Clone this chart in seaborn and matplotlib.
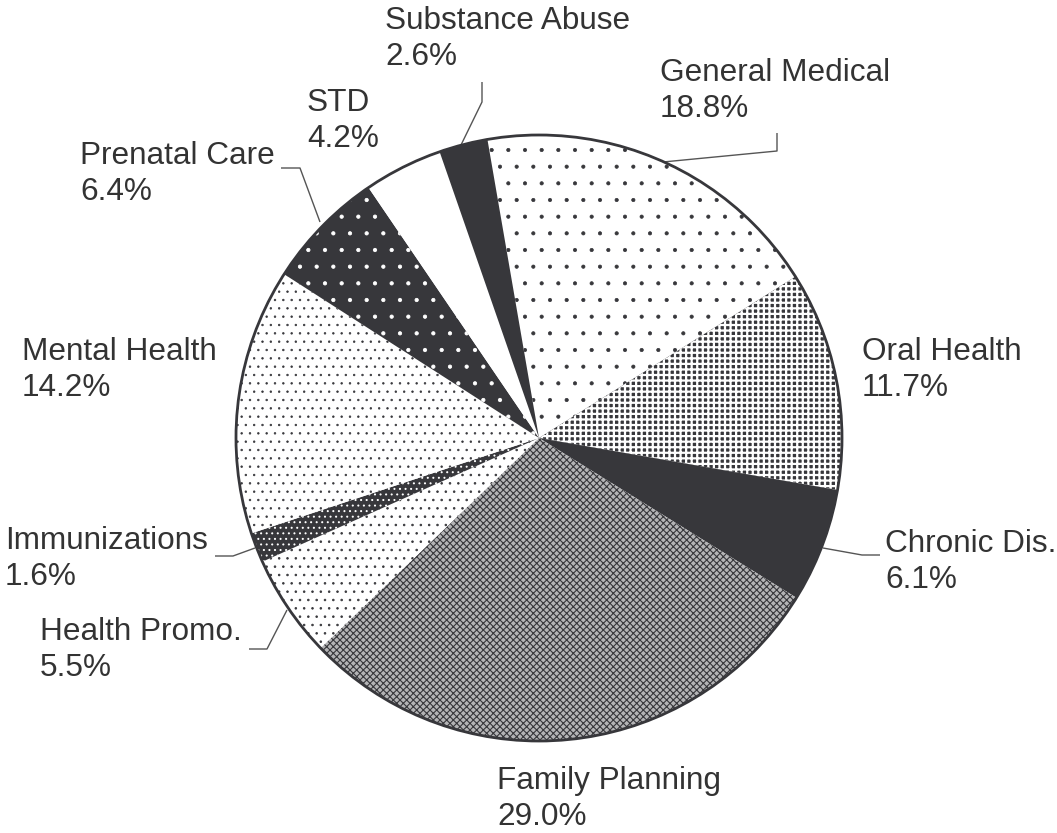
import matplotlib
matplotlib.use("Agg")
import matplotlib.pyplot as plt
from matplotlib.patches import Circle
import seaborn as sns

# ---- data ----
categories = ["General Medical", "Oral Health", "Chronic Dis.", "Family Planning",
              "Health Promo.", "Immunizations", "Mental Health", "Prenatal Care",
              "STD", "Substance Abuse"]
shares = [18.8, 11.7, 6.1, 29.0, 5.5, 1.6, 14.2, 6.4, 4.2, 2.6]

# ---- styling ----
sns.set_theme(style="white")
plt.rcParams['font.family'] = ['Liberation Sans', 'DejaVu Sans']
plt.rcParams['hatch.linewidth'] = 0.7

DARK = "#37373b"
TXT = "#333333"
W, H = 1057, 833

# face, hatch, hatch colour, hatch linewidth per slice
styles = {
    "General Medical": ("white", ".", DARK, 0.5),
    "Oral Health": (DARK, "+++", "white", 1.6),
    "Chronic Dis.": (DARK, "", DARK, 1.0),
    "Family Planning": ("#b4b4b6", "xxxxx", DARK, 0.8),
    "Health Promo.": ("white", "..", DARK, 0.6),
    "Immunizations": (DARK, "...", "white", 0.7),
    "Mental Health": ("white", "..", DARK, 0.5),
    "Prenatal Care": (DARK, ".", "white", 0.6),
    "STD": ("white", "", "white", 1.0),
    "Substance Abuse": (DARK, "", DARK, 1.0),
}

# label placement (px, y downward): left x, baseline of 2nd line
label_pos = {
    "Substance Abuse": (385, 65),
    "General Medical": (660, 117),
    "STD": (307, 147),
    "Prenatal Care": (80, 200),
    "Mental Health": (22, 396),
    "Oral Health": (862, 396),
    "Immunizations": (5, 585),
    "Chronic Dis.": (885, 588),
    "Health Promo.": (40, 676),
    "Family Planning": (497, 825),
}
leaders = {
    "Substance Abuse": [(482, 82), (482, 102), (461, 145)],
    "General Medical": [(777, 133), (777, 151), (663, 162)],
    "Prenatal Care": [(281, 168), (300, 168), (320, 222)],
    "Immunizations": [(215, 556), (233, 556), (255, 548)],
    "Health Promo.": [(249, 649), (267, 649), (287, 610)],
    "Chronic Dis.": [(880, 555), (862, 555), (823, 548)],
}

CX, CY, R = 539, 438, 303

fig = plt.figure(figsize=(W / 100, H / 100), dpi=100)
ax = fig.add_axes([0, 0, 1, 1])

wedges, _ = ax.pie(shares, startangle=99.8, counterclock=False,
                   center=(CX, H - CY), radius=R,
                   wedgeprops=dict(linewidth=0))
for w, cat in zip(wedges, categories):
    face, hatch, hcol, hlw = styles[cat]
    w.set_facecolor(face)
    w.set_edgecolor(hcol)
    w.set_linewidth(0)
    if hatch:
        w.set_hatch(hatch)
        if hasattr(w, "set_hatch_linewidth"):
            w.set_hatch_linewidth(hlw)

ax.add_patch(Circle((CX, H - CY), R, fill=False, edgecolor=DARK, linewidth=2.0, zorder=5))

for cat, val in zip(categories, shares):
    x, y = label_pos[cat]
    ax.text(x, H - y, f"{cat}\n{val:.1f}%", fontsize=22.7, color=TXT,
            ha="left", va="baseline", linespacing=1.28)
    if cat in leaders:
        pts = leaders[cat]
        ax.plot([p[0] for p in pts], [H - p[1] for p in pts], color="#555555",
                linewidth=1.0, solid_capstyle="butt")

ax.set_xlim(0, W)
ax.set_ylim(0, H)
ax.set_aspect("equal")
ax.axis("off")
fig.savefig("out.png", dpi=100)
